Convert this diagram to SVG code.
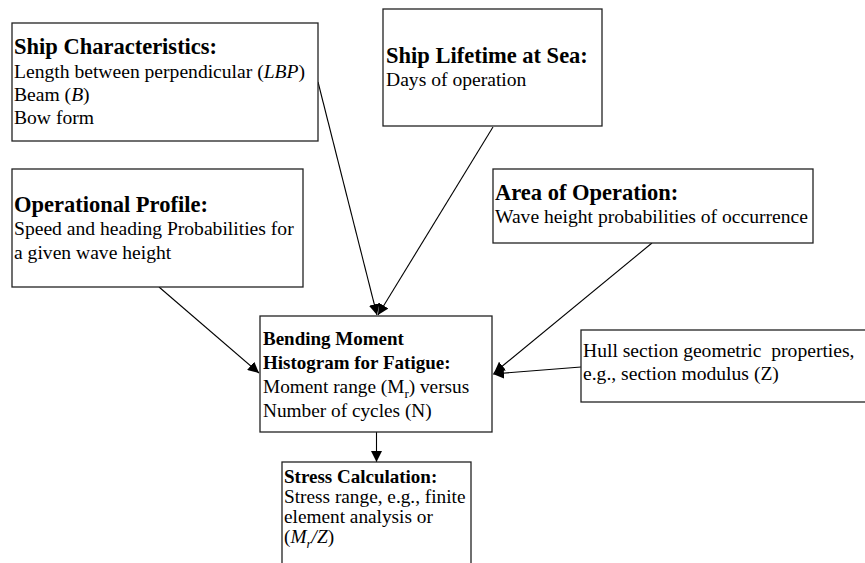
<svg xmlns="http://www.w3.org/2000/svg" width="865" height="563" viewBox="0 0 865 563">
<defs>
<style>
.box{fill:#fff;stroke:#222;stroke-width:1.3}
.t{font-family:"Liberation Serif","Times New Roman",serif;fill:#000}
.h{font-size:22.5px;font-weight:bold}
.hs{font-size:19px;font-weight:bold}
.b{font-size:19.6px}
.bs{font-size:19.3px}
.edge{stroke:#000;stroke-width:1.1;fill:none;marker-end:url(#ah)}
</style>
<marker id="ah" viewBox="0 0 10 10" refX="10" refY="5" markerWidth="11" markerHeight="11" markerUnits="userSpaceOnUse" orient="auto">
<path d="M0,0 L10,5 L0,10 z" fill="#000"/>
</marker>
</defs>
<rect width="865" height="563" fill="#fff"/>
<g id="connectors">
<line class="edge" x1="318" y1="82" x2="377" y2="315"/>
<line class="edge" x1="493" y1="127" x2="378" y2="315"/>
<line class="edge" x1="159" y1="287" x2="259" y2="373"/>
<line class="edge" x1="652" y1="243" x2="494" y2="373"/>
<line class="edge" x1="581" y1="367" x2="493" y2="374"/>
<line class="edge" x1="376.5" y1="432" x2="376.5" y2="462"/>
</g>
<g id="ship-characteristics">
<rect class="box" x="12" y="23" width="306" height="118"/>
<text class="t h" x="14" y="54">Ship Characteristics:</text>
<text class="t b" x="14" y="78">Length between perpendicular (<tspan font-style="italic">LBP</tspan>)</text>
<text class="t b" x="14" y="101">Beam (<tspan font-style="italic">B</tspan>)</text>
<text class="t b" x="14" y="124">Bow form</text>
</g>
<g id="ship-lifetime">
<rect class="box" x="383" y="9" width="219" height="117"/>
<text class="t h" x="386" y="63">Ship Lifetime at Sea:</text>
<text class="t b" x="386" y="86">Days of operation</text>
</g>
<g id="operational-profile">
<rect class="box" x="12" y="169" width="291" height="118"/>
<text class="t h" x="14" y="212">Operational Profile:</text>
<text class="t b" x="14" y="235">Speed and heading Probabilities for</text>
<text class="t b" x="14" y="259">a given wave height</text>
</g>
<g id="area-of-operation">
<rect class="box" x="493" y="169" width="320" height="74"/>
<text class="t h" x="495" y="200">Area of Operation:</text>
<text class="t b" x="495" y="223">Wave height probabilities of occurrence</text>
</g>
<g id="bending-moment">
<rect class="box" x="260" y="316" width="232" height="116"/>
<text class="t hs" x="263" y="345">Bending Moment</text>
<text class="t hs" x="263" y="369">Histogram for Fatigue:</text>
<text class="t bs" x="263" y="393">Moment range (M<tspan font-size="13" dy="5">r</tspan><tspan dy="-5">) versus</tspan></text>
<text class="t bs" x="263" y="417">Number of cycles (N)</text>
</g>
<g id="hull-section">
<rect class="box" x="581" y="330" width="290" height="72"/>
<text class="t b" x="583" y="357" style="white-space:pre" xml:space="preserve">Hull section geometric  properties,</text>
<text class="t b" x="583" y="380">e.g., section modulus (Z)</text>
</g>
<g id="stress-calculation">
<rect class="box" x="282" y="462" width="189" height="110"/>
<text class="t hs" x="284" y="483">Stress Calculation:</text>
<text class="t bs" x="284" y="503">Stress range, e.g., finite</text>
<text class="t bs" x="284" y="523">element analysis or</text>
<text class="t bs" x="284" y="543">(<tspan font-style="italic">M</tspan><tspan font-style="italic" font-size="13" dy="5">r</tspan><tspan font-style="italic" dy="-5">/Z</tspan>)</text>
</g>
</svg>
